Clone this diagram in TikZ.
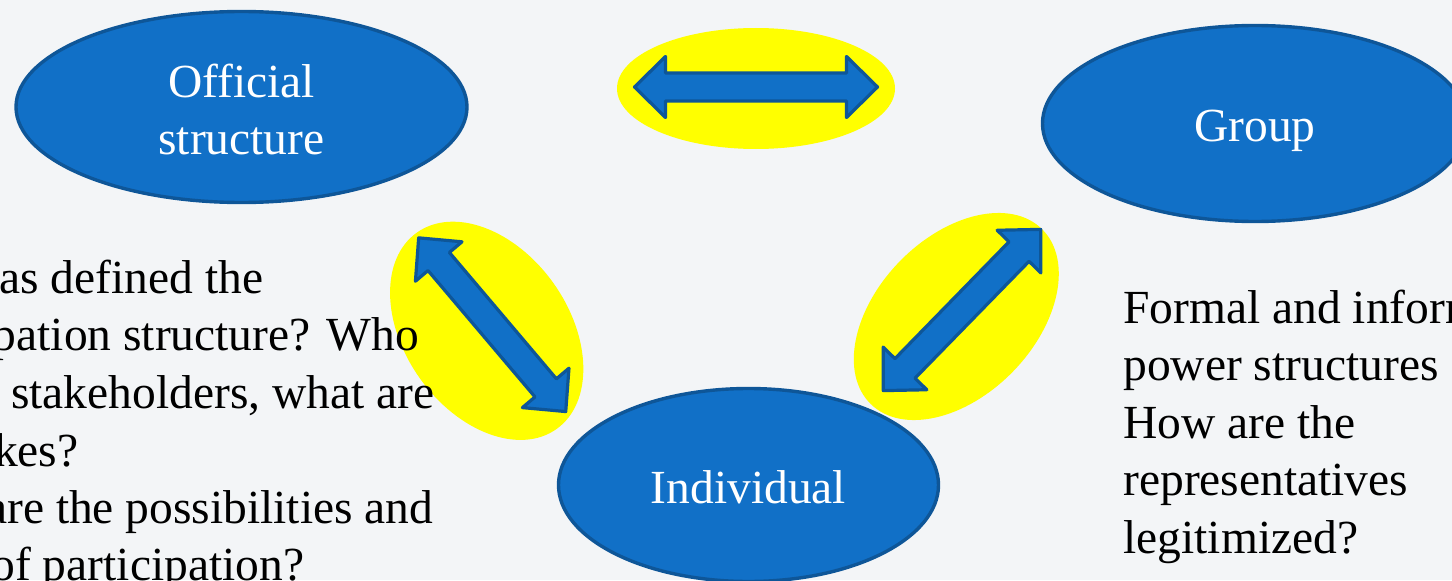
\documentclass[tikz,border=0pt]{standalone}
\usepackage{fontspec}
\setmainfont{Liberation Serif}
\usetikzlibrary{shapes.geometric}
\definecolor{bgc}{RGB}{243,245,247}
\definecolor{bfill}{RGB}{17,112,199}
\definecolor{bline}{RGB}{14,86,152}
\definecolor{halo}{RGB}{255,255,0}
\newcommand\dblarr[4]{%
  \begin{scope}[shift={(#1,#2)}, rotate=#3]
    \pgfmathsetmacro\hl{#4/2}
    \draw[darrow] (-\hl,0) -- ({-\hl+31},30.5) -- ({-\hl+31},14) -- ({\hl-31},14)
      -- ({\hl-31},30.5) -- (\hl,0) -- ({\hl-31},-30.5) -- ({\hl-31},-14)
      -- ({-\hl+31},-14) -- ({-\hl+31},-30.5) -- cycle;
  \end{scope}}
\begin{document}
\begin{tikzpicture}[x=0.5pt,y=0.5pt,
  blob/.style={ellipse, draw=bline, fill=bfill, line width=1.7pt, inner sep=0pt,
    text=white, font=\fontsize{23.75pt}{28.5pt}\selectfont, align=center},
  halofill/.style={fill=halo, draw=none},
  darrow/.style={fill=bfill, draw=bline, line width=1.6pt, line join=round},
  txt/.style={anchor=base west, inner sep=0pt, font=\fontsize{23.75pt}{28.5pt}\selectfont, text=black}]
\useasboundingbox (0,0) rectangle (1452,580);
\fill[bgc] (0,0) rectangle (1452,580);
\clip (0,0) rectangle (1452,580);

% yellow halos
\fill[halofill] (756,491.5) ellipse [x radius=139, y radius=60.5];
\fill[halofill, rotate around={-54.6:(486.7,249.2)}] (486.7,249.2) ellipse [x radius=120.5, y radius=82];
\fill[halofill, rotate around={45.7:(956.3,263.5)}] (956.3,263.5) ellipse [x radius=122.4, y radius=79];

% double arrows
\dblarr{756}{493}{0}{243}
\dblarr{492.2}{255.3}{-49.75}{227.6}
\dblarr{962}{270}{45.7}{225.3}

% ellipses
\node[blob, minimum width=225.5pt, minimum height=95.5pt] (official) at (241.5,473) {\rule{0pt}{19.5pt}Official\\structure};
\node[blob, minimum width=212.5pt, minimum height=98pt, text height=23pt, text depth=5pt] (group) at (1255,456.5) {Group};
\node[blob, minimum width=190pt, minimum height=96.5pt, text height=23pt, text depth=5pt] (individual) at (748.5,95) {Individual};

% left text
\node[txt] (l1) at (-129,287) {Who has defined the};
\node[txt] (l2) at (-129,230) {participation structure? Who};
\node[txt] (l3) at (-129,172) {are the stakeholders, what are};
\node[txt] (l4) at (-129,114) {the stakes?};
\node[txt] (l5) at (-129,57) {What are the possibilities and};
\node[txt] (l6) at (-129,-0.5) {limits of participation?};

% right text
\node[txt] (r1) at (1123,257) {Formal and informal};
\node[txt] (r2) at (1123,199.5) {power structures};
\node[txt] (r3) at (1123,142) {How are the};
\node[txt] (r4) at (1123,84.5) {representatives};
\node[txt] (r5) at (1123,27) {legitimized?};
\end{tikzpicture}
\end{document}
